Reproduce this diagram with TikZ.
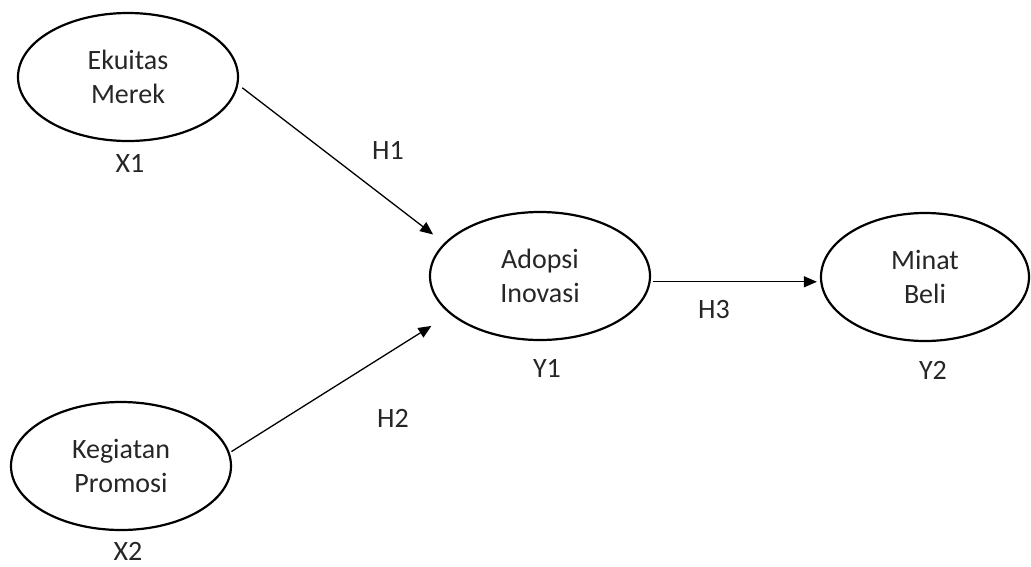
\documentclass[tikz,border=0pt]{standalone}
\usepackage{fontspec}
\setmainfont{Carlito}
\usetikzlibrary{shapes.geometric,arrows.meta}
\begin{document}
\begin{tikzpicture}[x=1pt,y=-1pt,
    var/.style={ellipse,draw,line width=2.2pt,minimum width=220pt,minimum height=128pt,
      inner sep=0pt,align=center,text=black!85,font=\fontsize{28}{34}\selectfont},
    lbl/.style={inner sep=1pt,text=black!85,font=\fontsize{28}{34}\selectfont},
    arr/.style={-{Triangle[length=13pt,width=11pt]},line width=1.3pt}]
        \useasboundingbox (0,0) rectangle (1031,566);

        \node[var] (em) at (128, 77) {Ekuitas\\Merek};
        \node[var] (kp) at (121,466) {Kegiatan\\Promosi};
        \node[var] (ai) at (540,276) {Adopsi\\Inovasi};
        \node[var,minimum width=208pt] (mb) at (925,277) {Minat\\Beli};

        \node[lbl] (x1) at (130,163) {X1};
        \node[lbl] (x2) at (128,551) {X2};
        \node[lbl] (y1) at (547,368) {Y1};
        \node[lbl] (y2) at (933,370) {Y2};
        \node[lbl] (h1) at (388,150) {H1};
        \node[lbl] (h2) at (393,418) {H2};
        \node[lbl] (h3) at (714,310) {H3};

        \draw[arr,shorten <=5pt,shorten >=14pt] (em.-4) to (ai.161);
        \draw[arr,shorten <=2pt,shorten >=22pt] (kp.7)  to (ai.203);
        \draw[arr,shorten <=2pt,shorten >=3pt]  (ai.-3) to (ai.-3 -| mb.west);
      \end{tikzpicture}
\end{document}
